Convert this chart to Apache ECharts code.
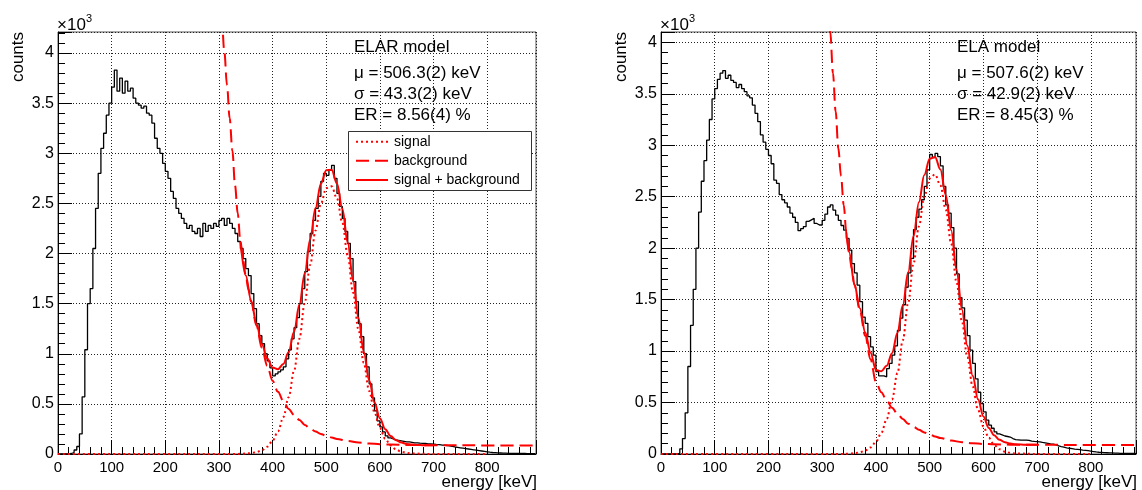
<!DOCTYPE html>
<html><head><meta charset="utf-8">
<script src="https://cdn.jsdelivr.net/npm/echarts@6/dist/echarts.min.js"></script>
<style>html,body{margin:0;padding:0;background:#fff}#c{width:1142px;height:490px}</style>
</head><body><div id="c"></div>
<script>
// ---------------- data ----------------
const binWidth = 5; // keV
const xTickLabels = ['0','100','200','300','400','500','600','700','800'];

// ELAR model histogram (counts per 5 keV bin, bins start at 0)
const elarCounts = [
 0,0,0,0,5,15,40,75,200,570,
 1040,1500,1650,2050,2450,2800,3050,3200,3380,3500,
 3660,3830,3620,3750,3600,3720,3620,3650,3550,3500,
 3480,3450,3470,3400,3380,3300,3150,3050,3000,2900,
 2820,2750,2620,2550,2450,2400,2350,2300,2250,2280,
 2220,2200,2250,2170,2300,2220,2280,2250,2300,2270,
 2330,2350,2280,2350,2300,2250,2200,2120,2050,1950,
 1850,1780,1600,1450,1300,1180,1100,1000,930,860,
 780,800,820,840,870,950,1040,1150,1260,1360,
 1500,1650,1820,2020,2200,2330,2450,2570,2720,2800,
 2780,2830,2880,2750,2600,2470,2350,2220,2100,1950,
 1720,1520,1300,1170,1000,870,700,560,430,330,
 270,220,180,160,150,140,135,130,125,120,
 120,115,110,112,108,105,105,100,100,98,
 95,93,90,88,85,80,75,70,66,62,
 58,54,50,46,42,38,34,30,26,22,
 18,15,13,11,10,9,8,7,7,6,
 6,5,5,5,4,4,4,3
];
// ELA model histogram
const elaCounts = [
 0,0,0,0,0,0,5,50,150,400,
 850,1250,1600,2000,2350,2650,2850,3050,3250,3450,
 3550,3640,3700,3725,3650,3680,3630,3610,3560,3590,
 3550,3520,3480,3460,3390,3310,3230,3100,3030,2960,
 2900,2820,2660,2630,2520,2470,2440,2400,2340,2300,
 2250,2170,2190,2210,2260,2275,2290,2240,2225,2225,
 2270,2330,2400,2420,2370,2320,2270,2220,2175,2094,
 1981,1850,1760,1640,1480,1330,1270,1140,1040,960,
 800,760,760,750,830,880,960,1050,1200,1320,
 1450,1620,1760,1900,2180,2300,2380,2470,2600,2760,
 2910,2880,2920,2890,2800,2600,2420,2340,2200,2000,
 1750,1520,1420,1300,1150,1010,880,730,600,490,
 410,330,280,250,215,195,185,175,170,165,
 150,140,138,135,135,135,132,125,122,120,
 118,112,108,103,98,95,88,80,72,66,
 60,56,52,48,45,42,38,35,32,28,
 24,20,17,15,13,12,11,10,9,8,
 7,6,6,5,5,5,4
];

// fit curves (energy in keV, counts)
const sigE = [0,100,200,300,330,340,350,360,370,380,390,400,410,420,430,440,450,460,470,480,490,500,510,520,530,540,550,560,570,580,590,600,610,620,630,640,650,660,700,800];
const elarSig = [0,0,0,0,0,2,4,9,19,38,73,132,226,368,567,830,1151,1513,1886,2228,2497,2652,2670,2549,2307,1980,1610,1242,908,630,414,258,152,85,45,23,11,5,0,0];
const elaSig  = [0,0,0,0,0,1,3,7,16,33,64,117,204,338,530,786,1104,1470,1853,2211,2501,2678,2716,2609,2373,2045,1669,1290,944,655,430,267,157,88,46,23,11,5,0,0];

const bgE = [300,305,310,315,320,325,330,335,340,345,350,355,360,370,380,390,400,410,420,430,440,450,460,470,480,490,500,510,520,540,560,580,600,620,650,700,800,900];
const elarBg = [4750,4360,4020,3680,3350,3030,2680,2400,2120,1930,1780,1640,1520,1280,1060,880,730,620,530,450,390,340,290,255,225,200,180,165,150,130,115,105,98,94,90,87,86,85];
const elaBg  = [5400,4950,4500,4100,3700,3330,2970,2700,2420,2150,1960,1800,1640,1400,1150,920,700,600,520,450,390,340,295,265,235,210,190,170,155,130,115,105,98,94,91,89,88,87];

const elarTotE = [340,350,360,370,380,390,400,410,420,430,440,450,460,470,480,490,500,510,520,530,540,550,560,570,580,590,600,610,620,630,640,650,660,670,680,690,700];
const elarTot  = [2122,1782,1529,1299,1098,953,862,846,898,1017,1220,1491,1803,2141,2453,2697,2832,2835,2699,2447,2110,1732,1357,1018,735,515,356,248,179,137,114,101,94,90,88,87,87];
const elaTotE = [345,350,360,370,380,390,400,410,420,430,440,450,460,470,480,490,500,510,520,530,540,550,560,570,580,590,600,610,620,630,640,650,660,670,680,690,700];
const elaTot  = [2152,1963,1647,1416,1183,984,817,804,858,980,1176,1444,1765,2118,2446,2711,2868,2886,2764,2515,2175,1791,1405,1054,760,531,365,253,182,138,114,102,95,92,90,89,89];

const elarText = ['ELAR model','μ = 506.3(2) keV','σ = 43.3(2) keV','ER = 8.56(4) %'];
const elaText  = ['ELA model','μ = 507.6(2) keV','σ = 42.9(2) keV','ER = 8.45(3) %'];
const legendLabels = ['signal','background','signal + background'];

// ---------------- helpers ----------------
function histPts(counts, xmax){
  const pts = counts.map((c,i)=>[i*binWidth, c]);
  pts.push([Math.min(counts.length*binWidth, xmax), counts[counts.length-1]]);
  return pts;
}
function pairs(E, V){ return E.map((e,i)=>[e, V[i]]); }

const FONT = 'Liberation Sans, Arial, Helvetica, sans-serif';
const grids = [
  {left:58, top:32, width:478, height:422},
  {left:661, top:32, width:475, height:422}
];
const xMax = [891, 884];
const yMax = [4210, 4100];

function xAxis(i){
  return {type:'value', gridIndex:i, min:0, max:xMax[i], interval:100,
    axisLine:{show:true, onZero:false, lineStyle:{color:'#000', width:1}},
    axisTick:{show:true, inside:true, length:14, lineStyle:{color:'#000'}},
    minorTick:{show:true, splitNumber:5, length:7, lineStyle:{color:'#000'}},
    axisLabel:{margin:6, fontSize:15, color:'#000', fontFamily:FONT, showMaxLabel:false,
      formatter:(v)=>{const k = Math.round(v/100); return (Math.abs(v-k*100)<1e-6 && xTickLabels[k]!==undefined) ? xTickLabels[k] : '';}},
    splitLine:{show:true, lineStyle:{color:'#222', type:[1,2], width:1}}
  };
}
function yAxis(i){
  return {type:'value', gridIndex:i, min:0, max:yMax[i], interval:500,
    axisLine:{show:true, onZero:false, lineStyle:{color:'#000', width:1}},
    axisTick:{show:true, inside:true, length:14, lineStyle:{color:'#000'}},
    minorTick:{show:true, splitNumber:5, length:7, lineStyle:{color:'#000'}},
    axisLabel:{margin:4, fontSize:16, color:'#000', fontFamily:FONT, showMaxLabel:false,
      formatter:(v)=> String(v/1000)},
    splitLine:{show:true, lineStyle:{color:'#222', type:[1,2], width:1}}
  };
}
function seriesFor(i, counts, sig, bg, totE, tot){
  const base = {xAxisIndex:i, yAxisIndex:i, type:'line', symbol:'none', animation:false, clip:true};
  return [
    Object.assign({}, base, {name:'hist'+i, data:histPts(counts, xMax[i]), step:'end', z:2,
      lineStyle:{color:'#000', width:1.3}}),
    Object.assign({}, base, {name:'sig'+i, data:pairs(sigE, sig), smooth:0.35, smoothMonotone:'x', z:3,
      lineStyle:{color:'#ff0000', width:2, type:[2,3]}}),
    Object.assign({}, base, {name:'bg'+i, data:pairs(bgE, bg), smooth:0.35, smoothMonotone:'x', z:3,
      lineStyle:{color:'#ff0000', width:2, type:[13,6]}}),
    Object.assign({}, base, {name:'tot'+i, data:pairs(totE, tot), smooth:0.35, smoothMonotone:'x', z:4,
      lineStyle:{color:'#ff0000', width:2}})
  ];
}

function annot(lines, x){
  const ys = [47.5, 73.5, 94, 115];
  return lines.map((t,k)=>({type:'text', x:x, y:ys[k], z:50,
    style:{text:t, font:'17px '+FONT, fill:'#000', align:'left', verticalAlign:'middle'}}));
}
function axisDeco(g){
  return [
    {type:'text', x:g.left-40, y:57, rotation:Math.PI/2, z:50,
      style:{text:'counts', font:'17px '+FONT, fill:'#000', align:'center', verticalAlign:'middle'}},
    {type:'text', x:g.left-1, y:25, z:50,
      style:{text:'×10', font:'17px '+FONT, fill:'#000', align:'left', verticalAlign:'middle'}},
    {type:'text', x:g.left+28, y:19, z:50,
      style:{text:'3', font:'11px '+FONT, fill:'#000', align:'left', verticalAlign:'middle'}},
    {type:'text', x:g.left+g.width+1, y:482, z:50,
      style:{text:'energy [keV]', font:'17px '+FONT, fill:'#000', align:'right', verticalAlign:'middle'}}
  ];
}
function legendBox(){
  const x0=348.5, y0=131.5, w=183, h=59;
  const rows=[141.7,160.7,180];
  const dashes=[[2,3],[13,6],null];
  const els=[{type:'rect', z:60, shape:{x:x0,y:y0,width:w,height:h}, style:{fill:'#fff', stroke:'#333', lineWidth:1}}];
  rows.forEach((y,k)=>{
    els.push({type:'line', z:61, shape:{x1:356,y1:y,x2:388,y2:y}, style:{stroke:'#ff0000', lineWidth:2, lineDash:dashes[k]||null}});
    els.push({type:'text', z:61, x:394, y:y, style:{text:legendLabels[k], font:'14px '+FONT, fill:'#000', align:'left', verticalAlign:'middle'}});
  });
  return els;
}

const chart = echarts.init(document.getElementById('c'), null, {renderer:'canvas'});
chart.setOption({
  animation:false,
  backgroundColor:'#fff',
  textStyle:{fontFamily:FONT},
  grid: grids.map(g=>Object.assign({show:true, borderColor:'#555', borderWidth:1, backgroundColor:'transparent'}, g)),
  xAxis:[xAxis(0), xAxis(1)],
  yAxis:[yAxis(0), yAxis(1)],
  series:[].concat(
    seriesFor(0, elarCounts, elarSig, elarBg, elarTotE, elarTot),
    seriesFor(1, elaCounts, elaSig, elaBg, elaTotE, elaTot)
  ),
  graphic:[].concat(
    axisDeco(grids[0]), axisDeco(grids[1]),
    annot(elarText, 354), annot(elaText, 957),
    legendBox()
  )
});
</script></body></html>
